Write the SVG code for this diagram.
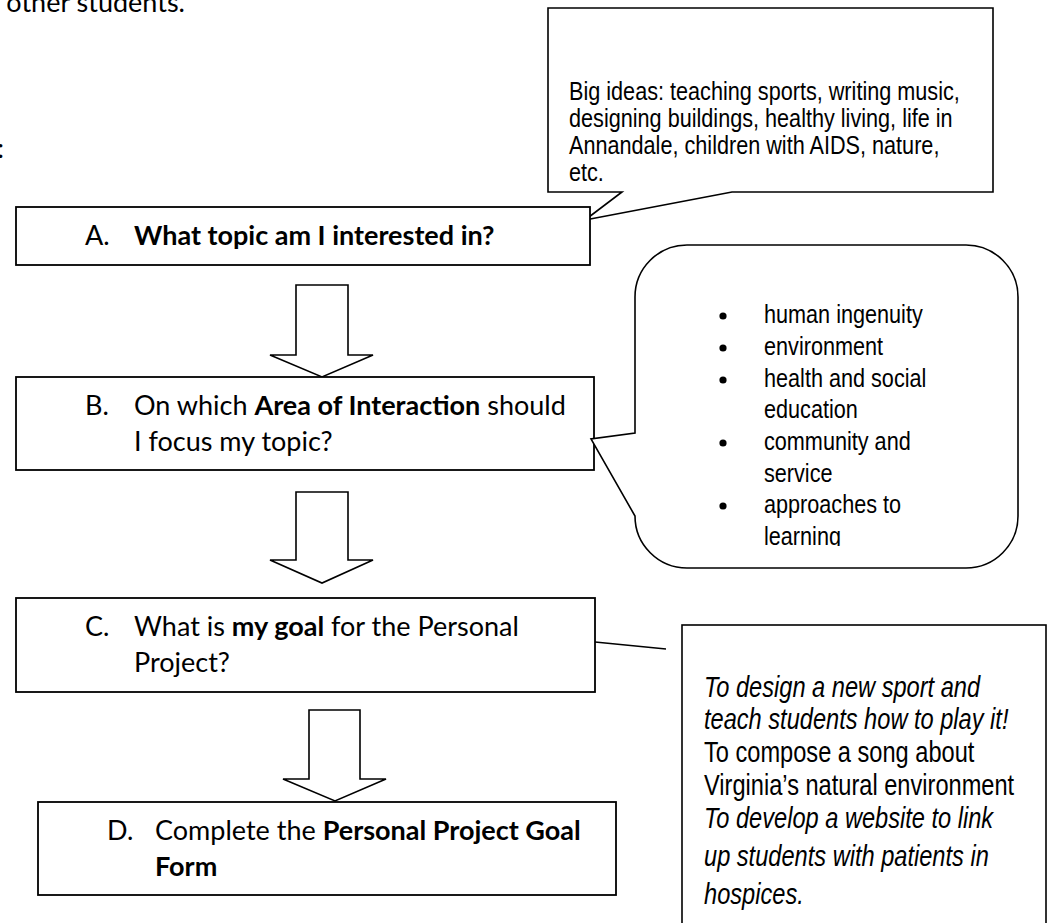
<svg xmlns="http://www.w3.org/2000/svg" width="1052" height="923" viewBox="0 0 1052 923">
<style>
.box{fill:#fff;stroke:#000;stroke-width:1.8}
.call{fill:#fff;stroke:#000;stroke-width:1.6}
.arr{fill:#fff;stroke:#000;stroke-width:1.6;stroke-linejoin:miter}
.ln{stroke:#000;stroke-width:1.5;fill:none}
.cal{font-family:Lato,"Open Sans",sans-serif;font-size:27px;fill:#000}
.b{font-weight:bold}
.nar{font-family:"Liberation Sans",Arial,sans-serif;font-size:26.4px;fill:#000}
.nar12{font-family:"Liberation Sans",Arial,sans-serif;font-size:28.8px;fill:#000}
.it{font-style:italic}
</style>
<defs>
<clipPath id="clip2"><rect x="600" y="240" width="430" height="306"/></clipPath>
</defs>
<rect width="1052" height="923" fill="#fff"/>
<g id="page-text">
<text class="cal" x="185" y="12" text-anchor="end">other students.</text>
<text class="cal" x="4" y="158" text-anchor="end">:</text>
</g>
<g id="connectors">
<polygon class="arr" points="296,285 348,285 348,355 373,355 322,377 270,355 296,355"/>
<polygon class="arr" points="296,492 348,492 348,560 373,560 322,583 270,560 296,560"/>
<polygon class="arr" points="309,710 360,710 360,779 386,779 335,801 283,779 309,779"/>
<line class="ln" x1="595" y1="642" x2="666" y2="649"/>
</g>
<g id="callout-ideas">
<polygon class="call" points="548,8 993,8 993,192 732,192 585,220 622,192 548,192"/>
<text class="nar" transform="translate(569,100) scale(0.82,1)">Big ideas: teaching sports, writing music,</text>
<text class="nar" transform="translate(569,127) scale(0.82,1)">designing buildings, healthy living, life in</text>
<text class="nar" transform="translate(569,154) scale(0.82,1)">Annandale, children with AIDS, nature,</text>
<text class="nar" transform="translate(569,181) scale(0.82,1)">etc.</text>
</g>
<g id="box-a">
<rect class="box" x="16" y="207" width="574" height="58"/>
<text class="cal" x="85" y="245">A.</text>
<text class="cal b" x="134" y="245">What topic am I interested in?</text>
</g>
<g id="box-b">
<rect class="box" x="16" y="377" width="578" height="93"/>
<text class="cal" x="85" y="415">B.</text>
<text class="cal" x="134" y="415">On which <tspan class="b">Area of Interaction</tspan> should</text>
<text class="cal" x="134" y="451">I focus my topic?</text>
</g>
<g id="callout-areas">
<path class="call" d="M687,245 H966 A52,52 0 0 1 1018,297 V516 A52,52 0 0 1 966,568 H687 A52,52 0 0 1 635,516 L591,439 L635,433 V297 A52,52 0 0 1 687,245 Z"/>
<g clip-path="url(#clip2)">
<circle cx="723" cy="316" r="3.6"/>
<circle cx="723" cy="348" r="3.6"/>
<circle cx="723" cy="380" r="3.6"/>
<circle cx="723" cy="443" r="3.6"/>
<circle cx="723" cy="506" r="3.6"/>
<text class="nar" transform="translate(764,323) scale(0.82,1)">human ingenuity</text>
<text class="nar" transform="translate(764,355) scale(0.82,1)">environment</text>
<text class="nar" transform="translate(764,387) scale(0.82,1)">health and social</text>
<text class="nar" transform="translate(764,418) scale(0.82,1)">education</text>
<text class="nar" transform="translate(764,450) scale(0.82,1)">community and</text>
<text class="nar" transform="translate(764,482) scale(0.82,1)">service</text>
<text class="nar" transform="translate(764,513) scale(0.82,1)">approaches to</text>
<text class="nar" transform="translate(764,545) scale(0.82,1)">learning</text>
</g>
</g>
<g id="box-c">
<rect class="box" x="16" y="598" width="579" height="94"/>
<text class="cal" x="85" y="636">C.</text>
<text class="cal" x="134" y="636">What is <tspan class="b">my goal</tspan> for the Personal</text>
<text class="cal" x="134" y="672">Project?</text>
</g>
<g id="callout-goals">
<rect class="call" x="682" y="625" width="364" height="310"/>
<text class="nar12 it" transform="translate(704,697) scale(0.82,1)">To design a new sport and</text>
<text class="nar12 it" transform="translate(704,729) scale(0.82,1)">teach students how to play it!</text>
<text class="nar12" transform="translate(704,762) scale(0.82,1)">To compose a song about</text>
<text class="nar12" transform="translate(704,795) scale(0.82,1)">Virginia’s natural environment</text>
<text class="nar12 it" transform="translate(704,828) scale(0.82,1)">To develop a website to link</text>
<text class="nar12 it" transform="translate(704,866) scale(0.82,1)">up students with patients in</text>
<text class="nar12 it" transform="translate(704,904) scale(0.82,1)">hospices.</text>
</g>
<g id="box-d">
<rect class="box" x="38" y="802" width="578" height="93"/>
<text class="cal" x="107" y="840">D.</text>
<text class="cal" x="155" y="840">Complete the <tspan class="b">Personal Project Goal</tspan></text>
<text class="cal b" x="155" y="876">Form</text>
</g>
</svg>
